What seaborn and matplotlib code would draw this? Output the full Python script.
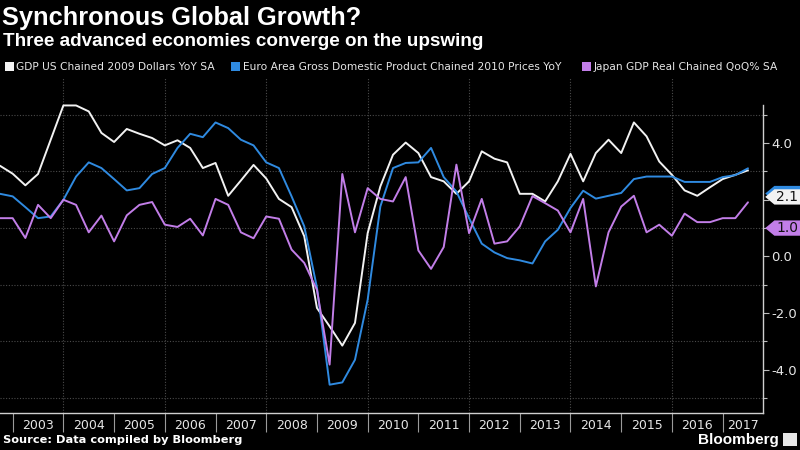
import numpy as np
import pandas as pd
import matplotlib
matplotlib.use("Agg")
import matplotlib.pyplot as plt
import seaborn as sns
from matplotlib.patches import Polygon, Rectangle
from matplotlib.transforms import blended_transform_factory

# ---------------- data (in the chart's axis units) -------------
quarters = pd.period_range("2002Q3", "2017Q2", freq="Q")

us_gdp = [3.20, 2.92, 2.51, 2.91, 4.12, 5.33, 5.33, 5.12, 4.36, 4.04,
          4.50, 4.33, 4.18, 3.92, 4.10, 3.83, 3.12, 3.30, 2.14, 2.68,
          3.23, 2.75, 2.03, 1.74, 0.71, -1.82, -2.47, -3.15, -2.35, 0.82,
          2.47, 3.59, 4.02, 3.65, 2.80, 2.65, 2.21, 2.65, 3.71, 3.45,
          3.32, 2.21, 2.21, 1.94, 2.65, 3.62, 2.65, 3.65, 4.12, 3.65,
          4.73, 4.24, 3.35, 2.88, 2.33, 2.14, 2.44, 2.73, 2.88, 3.04]

euro_gdp = [2.21, 2.12, 1.74, 1.35, 1.41, 2.00, 2.82, 3.32, 3.12, 2.73,
            2.33, 2.41, 2.91, 3.12, 3.83, 4.33, 4.21, 4.73, 4.53, 4.12,
            3.92, 3.32, 3.12, 2.12, 1.06, -1.10, -4.53, -4.45, -3.65, -1.53,
            1.76, 3.12, 3.30, 3.32, 3.83, 2.80, 2.29, 1.35, 0.45, 0.14,
            -0.06, -0.14, -0.25, 0.53, 0.94, 1.71, 2.32, 2.04, 2.14, 2.24,
            2.73, 2.82, 2.82, 2.82, 2.63, 2.63, 2.63, 2.80, 2.87, 3.11]

japan_gdp = [1.35, 1.35, 0.65, 1.82, 1.35, 2.00, 1.82, 0.85, 1.44, 0.53,
             1.45, 1.82, 1.92, 1.12, 1.04, 1.33, 0.74, 2.03, 1.82, 0.85,
             0.64, 1.41, 1.33, 0.24, -0.23, -1.18, -3.82, 2.91, 0.85, 2.41,
             2.03, 1.94, 2.80, 0.21, -0.44, 0.33, 3.24, 0.82, 2.03, 0.45,
             0.53, 1.06, 2.13, 1.88, 1.62, 0.85, 2.03, -1.06, 0.85, 1.76,
             2.14, 0.85, 1.12, 0.73, 1.51, 1.21, 1.21, 1.35, 1.35, 1.91]

series_names = ["GDP US Chained 2009 Dollars YoY SA",
                "Euro Area Gross Domestic Product Chained 2010 Prices YoY",
                "Japan GDP Real Chained QoQ% SA"]
series_colors = ["#f2f2f2", "#2f8ae0", "#c27ee8"]

year_labels = [str(y) for y in range(2003, 2018)]
yticks_major = [-4, -2, 0, 2, 4]
ytick_labels = ["-4.0", "-2.0", "0.0", "", "4.0"]   # 2.0 is covered by the 2.1 tag
yticks_minor = [-5, -3, -1, 1, 3, 5]

# last-value tags on the right axis: (value, text, colour); blue tag is hidden under white
last_tags = [(2.22, "", "#2f8ae0"), (2.1, "2.1", "#f2f2f2"), (1.0, "1.0", "#c27ee8")]

# ---------------- frame ----------------
x_vals = np.array([q.year + q.quarter * 0.25 for q in quarters])
df = pd.DataFrame({"x": x_vals,
                   series_names[0]: us_gdp,
                   series_names[1]: euro_gdp,
                   series_names[2]: japan_gdp})
long = df.melt(id_vars="x", var_name="series", value_name="value")

sns.set_theme(style="dark")
plt.rcParams["font.family"] = ["DejaVu Sans"]

fig = plt.figure(figsize=(8, 4.5), dpi=100, facecolor="black")
ax = fig.add_axes([0.0, 0.0822, 0.954, 0.7445])
ax.set_facecolor("black")

sns.lineplot(data=long, x="x", y="value", hue="series", hue_order=series_names,
             palette=dict(zip(series_names, series_colors)), linewidth=1.4,
             legend=False, ax=ax, zorder=3)

ax.set_xlim(2002.75, 2017.8)
ax.set_ylim(-5.53, 6.3)
ax.set_xlabel("")
ax.set_ylabel("")

# grid: horizontal at odd values, vertical every two years
for v in yticks_minor:
    ax.axhline(v, color="#4a4a4a", lw=0.8, ls=(0, (1, 1.5)), zorder=1)
for yv in range(2004, 2017, 2):
    ax.axvline(yv, color="#4a4a4a", lw=0.8, ls=(0, (1, 1.5)), zorder=1)

# y axis on right
ax.yaxis.tick_right()
ax.set_yticks(yticks_major)
ax.set_yticklabels(ytick_labels)
ax.set_yticks(yticks_minor, minor=True)
ax.tick_params(axis="y", which="major", right=True, left=False, length=4, width=0.8,
               color="#bbbbbb", labelcolor="#e6e6e6", labelsize=9.5, pad=2)
ax.tick_params(axis="y", which="minor", right=True, left=False, length=3, width=0.8,
               color="#bbbbbb")

# x axis: year separators and centred labels
years = list(range(2003, 2018))
ax.set_xticks(years)
ax.set_xticklabels([""] * len(years))
label_pos = [y + 0.5 for y in years[:-1]] + [2017.4]
ax.set_xticks(label_pos, minor=True)
ax.set_xticklabels(year_labels, minor=True)
ax.tick_params(axis="x", which="major", bottom=True, length=13.5, width=0.8,
               color="#9a9a9a", direction="out")
ax.tick_params(axis="x", which="minor", bottom=True, length=0, pad=4,
               labelcolor="#e6e6e6", labelsize=9)

for s in ["top", "left"]:
    ax.spines[s].set_visible(False)
ax.spines["right"].set_color("#cfcfcf")
ax.spines["right"].set_linewidth(1.0)
ax.spines["right"].set_bounds(-5.53, 5.35)
ax.spines["bottom"].set_color("#cfcfcf")
ax.spines["bottom"].set_linewidth(1.0)

# last value tags
trans = blended_transform_factory(fig.transFigure, ax.transData)
h = 0.27
for val, txt, col in last_tags:
    x0, x1, x2 = 0.9565, 0.968, 1.0
    poly = Polygon([(x0, val), (x1, val + h), (x2, val + h), (x2, val - h), (x1, val - h)],
                   closed=True, transform=trans, facecolor=col, edgecolor="none",
                   clip_on=False, zorder=10)
    ax.add_patch(poly)
    if txt:
        ax.text(0.9705, val, txt, transform=trans, color="#111111", fontsize=10,
                va="center", ha="left", clip_on=False, zorder=11)

# titles
fig.text(0.003, 0.987, "Synchronous Global Growth?", color="white", fontsize=18.3,
         fontweight="bold", va="top", ha="left", family=["Liberation Sans", "DejaVu Sans"])
fig.text(0.004, 0.926, "Three advanced economies converge on the upswing", color="white",
         fontsize=13.6, fontweight="bold", va="top", ha="left",
         family=["Liberation Sans", "DejaVu Sans"])

# legend (manual, measured positions)
leg_x = [0.006, 0.289, 0.727]
for lx, name, col in zip(leg_x, series_names, series_colors):
    fig.patches.append(Rectangle((lx, 0.842), 0.0115, 0.021, transform=fig.transFigure,
                                 facecolor=col, edgecolor="none"))
    fig.text(lx + 0.0145, 0.852, name, color="#e6e6e6", fontsize=7.7, va="center",
             ha="left")

# footer
fig.text(0.004, 0.022, "Source: Data compiled by Bloomberg", color="white", fontsize=8.2,
         fontweight="bold", va="center", ha="left")
fig.text(0.973, 0.022, "Bloomberg", color="white", fontsize=11, fontweight="bold",
         va="center", ha="right", family=["Liberation Sans", "DejaVu Sans"])
fig.patches.append(Rectangle((0.979, 0.008), 0.017, 0.03, transform=fig.transFigure,
                             facecolor="#e6e6e6", edgecolor="none"))

fig.savefig("out.png", dpi=100, facecolor="black")
